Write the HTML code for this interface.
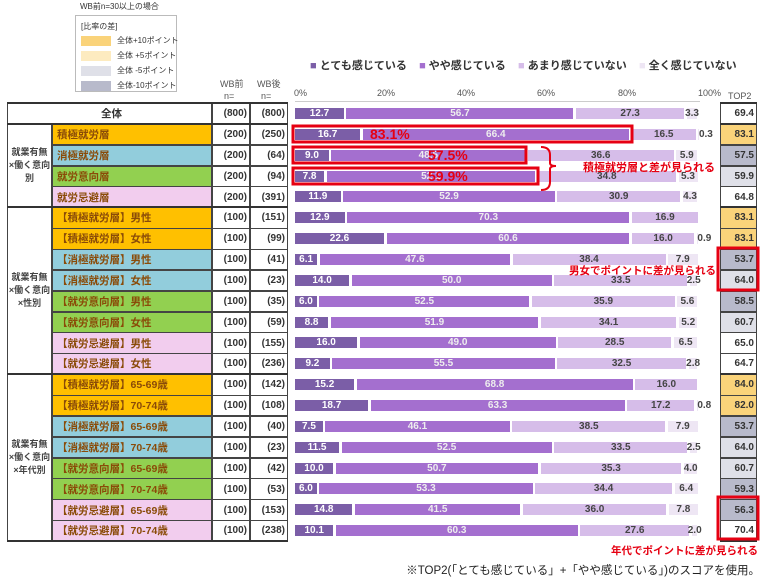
<!DOCTYPE html><html><head><meta charset="utf-8"><style>
body{margin:0;width:770px;height:583px;background:#fff;position:relative;overflow:hidden;font-family:"Liberation Sans","Noto Sans CJK JP",sans-serif;}
.a{position:absolute;white-space:nowrap;}
.c{position:absolute;box-sizing:border-box;font-size:10px;font-weight:bold;color:#333;display:flex;align-items:center;white-space:nowrap;}
.seg{position:absolute;height:11px;font-size:10px;font-weight:bold;display:flex;align-items:center;justify-content:center;white-space:nowrap;}
.red{color:#e60012;font-weight:bold;}
</style></head><body>
<div class="a" style="left:80px;top:1px;font-size:8px;color:#333">WB前n=30以上の場合</div>
<div class="a" style="left:75px;top:15px;width:102px;height:77px;border:1px solid #bbb;box-sizing:border-box;font-size:8px;color:#333">
<div class="a" style="left:5px;top:5px">[比率の差]</div>
<div class="a" style="left:5px;top:20px;width:30px;height:10px;background:#fad37a"></div><div class="a" style="left:41px;top:19px">全体+10ポイント</div>
<div class="a" style="left:5px;top:35px;width:30px;height:10px;background:#fdebc0"></div><div class="a" style="left:41px;top:34px">全体 +5ポイント</div>
<div class="a" style="left:5px;top:50px;width:30px;height:10px;background:#dfe0e8"></div><div class="a" style="left:41px;top:49px">全体 -5ポイント</div>
<div class="a" style="left:5px;top:65px;width:30px;height:10px;background:#b8bacb"></div><div class="a" style="left:41px;top:64px">全体-10ポイント</div>
</div>
<div class="a" style="left:310px;top:57px;font-size:11px;font-weight:bold;color:#333">
<span style="color:#7b5ea7">■</span> とても感じている&nbsp;&nbsp;&nbsp;&nbsp;<span style="color:#a46fcf">■</span> やや感じている&nbsp;&nbsp;&nbsp;&nbsp;<span style="color:#d6bde9">■</span> あまり感じていない&nbsp;&nbsp;&nbsp;&nbsp;<span style="color:#eee6f4">■</span> 全く感じていない</div>
<div class="a" style="left:220px;top:77px;font-size:9px;color:#555">WB前</div>
<div class="a" style="left:224px;top:91px;font-size:9px;color:#555">n=</div>
<div class="a" style="left:257px;top:77px;font-size:9px;color:#555">WB後</div>
<div class="a" style="left:261px;top:91px;font-size:9px;color:#555">n=</div>
<div class="a" style="left:728px;top:91px;font-size:9px;color:#555">TOP2</div>
<div id="root"></div>
<svg class="a" style="left:0;top:0" width="770" height="583">
<rect x="293" y="126" width="339" height="16" fill="none" stroke="#e60012" stroke-width="3"/>
<rect x="293" y="147" width="233" height="16" fill="none" stroke="#e60012" stroke-width="3"/>
<rect x="293" y="168" width="245" height="16" fill="none" stroke="#e60012" stroke-width="3"/>
<path d="M541 147 Q550 147 550 155 L550 163 Q550 166 556 166 Q550 166 550 169 L550 182 Q550 190 541 190" fill="none" stroke="#e60012" stroke-width="2"/>
<rect x="718" y="248" width="40" height="42" fill="none" stroke="#e60012" stroke-width="3"/>
<rect x="718" y="497" width="40" height="42" fill="none" stroke="#e60012" stroke-width="3"/>
</svg>
<div class="a red" style="left:370px;top:126px;font-size:14px">83.1%</div>
<div class="a red" style="left:428px;top:147px;font-size:14px">57.5%</div>
<div class="a red" style="left:428px;top:168px;font-size:14px">59.9%</div>
<div class="a red" style="left:583px;top:159px;font-size:11px">積極就労層と差が見られる</div>
<div class="a red" style="left:569px;top:263px;font-size:10.5px">男女でポイントに差が見られる</div>
<div class="a red" style="right:12px;top:543px;font-size:10.5px">年代でポイントに差が見られる</div>
<div class="a" style="right:10px;top:562px;font-size:11.5px;color:#222">※TOP2(「とても感じている」+「やや感じている」)のスコアを使用。</div>
<script>
var D=[["全体","800","800",12.7,56.7,27.3,3.3,69.4,0],
["積極就労層","200","250",16.7,66.4,16.5,0.3,83.1,1],
["消極就労層","200","64",9.0,48.5,36.6,5.9,57.5,4],
["就労意向層","200","94",7.8,52.1,34.8,5.3,59.9,3],
["就労忌避層","200","391",11.9,52.9,30.9,4.3,64.8,0],
["【積極就労層】男性","100","151",12.9,70.3,16.9,0,83.1,1],
["【積極就労層】女性","100","99",22.6,60.6,16.0,0.9,83.1,1],
["【消極就労層】男性","100","41",6.1,47.6,38.4,7.9,53.7,4],
["【消極就労層】女性","100","23",14.0,50.0,33.5,2.5,64.0,3],
["【就労意向層】男性","100","35",6.0,52.5,35.9,5.6,58.5,4],
["【就労意向層】女性","100","59",8.8,51.9,34.1,5.2,60.7,3],
["【就労忌避層】男性","100","155",16.0,49.0,28.5,6.5,65.0,0],
["【就労忌避層】女性","100","236",9.2,55.5,32.5,2.8,64.7,0],
["【積極就労層】65-69歳","100","142",15.2,68.8,16.0,0,84.0,1],
["【積極就労層】70-74歳","100","108",18.7,63.3,17.2,0.8,82.0,1],
["【消極就労層】65-69歳","100","40",7.5,46.1,38.5,7.9,53.7,4],
["【消極就労層】70-74歳","100","23",11.5,52.5,33.5,2.5,64.0,3],
["【就労意向層】65-69歳","100","42",10.0,50.7,35.3,4.0,60.7,3],
["【就労意向層】70-74歳","100","53",6.0,53.3,34.4,6.4,59.3,4],
["【就労忌避層】65-69歳","100","153",14.8,41.5,36.0,7.8,56.3,4],
["【就労忌避層】70-74歳","100","238",10.1,60.3,27.6,2.0,70.4,0]];
var rowBg=["#ffc000","#92cddc","#92d050","#f2cdee"];
var tc=["#fff","#fad37a","#fdebc0","#dfe0e8","#b8bacb"];
var segc=["#7b5ea7","#a46fcf","#d6bde9","#eee6f4"],segt=["#fff","#eee","#444","#444"];
var h="",T=103,R=20.86,x0=295,S=4.05;
var ax=[[294,"0%"],[377,"20%"],[457,"40%"],[537,"60%"],[618,"80%"],[698,"100%"]];
ax.forEach(function(a){h+='<div class="a" style="left:'+a[0]+'px;top:88px;font-size:9px;color:#555">'+a[1]+'</div>';});
h+='<div class="a" style="left:295px;top:101px;width:405px;height:1px;background:#ccc"></div>';
for(var i=0;i<21;i++){var d=D[i],y=T+i*R;
 var bg="#fff",lx=52,lw=160,jc="flex-start",col="#8a4b08";
 if(i==0){lx=7;lw=205;jc="center";col="#333";}else{var k=i<5?i-1:(i-5)%8>>1;bg=rowBg[k];}
 h+='<div class="c" style="left:'+lx+'px;top:'+y+'px;width:'+lw+'px;height:'+(R+0.5)+'px;background:'+bg+';color:'+col+';justify-content:'+jc+';padding-left:4px;border:1px solid #444;font-size:10.5px">'+d[0]+'</div>';
 h+='<div class="c" style="left:212px;top:'+y+'px;width:38px;height:'+(R+0.5)+'px;border:1px solid #444;justify-content:flex-end;padding-right:2px">('+d[1]+')</div>';
 h+='<div class="c" style="left:250px;top:'+y+'px;width:38px;height:'+(R+0.5)+'px;border:1px solid #444;justify-content:flex-end;padding-right:2px">('+d[2]+')</div>';
 h+='<div class="c" style="left:720px;top:'+y+'px;width:37px;height:'+(R+0.5)+'px;border:1px solid #444;background:'+tc[d[8]]+';justify-content:flex-end;padding-right:2px">'+d[7].toFixed(1)+'</div>';
 var x=x0;for(var s=0;s<4;s++){var v=d[3+s];if(v<=0)continue;var w=v*S;
  h+='<div class="seg" style="left:'+x.toFixed(1)+'px;top:'+(y+5)+'px;width:'+Math.max(w-2.5,1).toFixed(1)+'px;background:'+segc[s]+';color:'+segt[s]+'">'+(v<1.5&&s==3?'<span style="margin-left:14px">'+v.toFixed(1)+'</span>':v.toFixed(1))+'</div>';x+=w;}
}
function g(y0,n,t){h+='<div class="c" style="left:7px;top:'+y0+'px;width:45px;height:'+(n*R+0.5)+'px;border:1px solid #444;justify-content:center;text-align:center;font-size:9px;line-height:13px;color:#444">'+t+'</div>';}
g(T+R,4,"就業有無<br>×働く意向<br>別");g(T+5*R,8,"就業有無<br>×働く意向<br>×性別");g(T+13*R,8,"就業有無<br>×働く意向<br>×年代別");
[T,T+R,T+5*R,T+13*R,T+21*R].forEach(function(y){h+='<div class="a" style="left:7px;top:'+(y-1)+'px;width:281px;height:2px;background:#333"></div><div class="a" style="left:720px;top:'+(y-1)+'px;width:37px;height:2px;background:#333"></div>';});
document.getElementById("root").innerHTML=h;
</script>
</body></html>
